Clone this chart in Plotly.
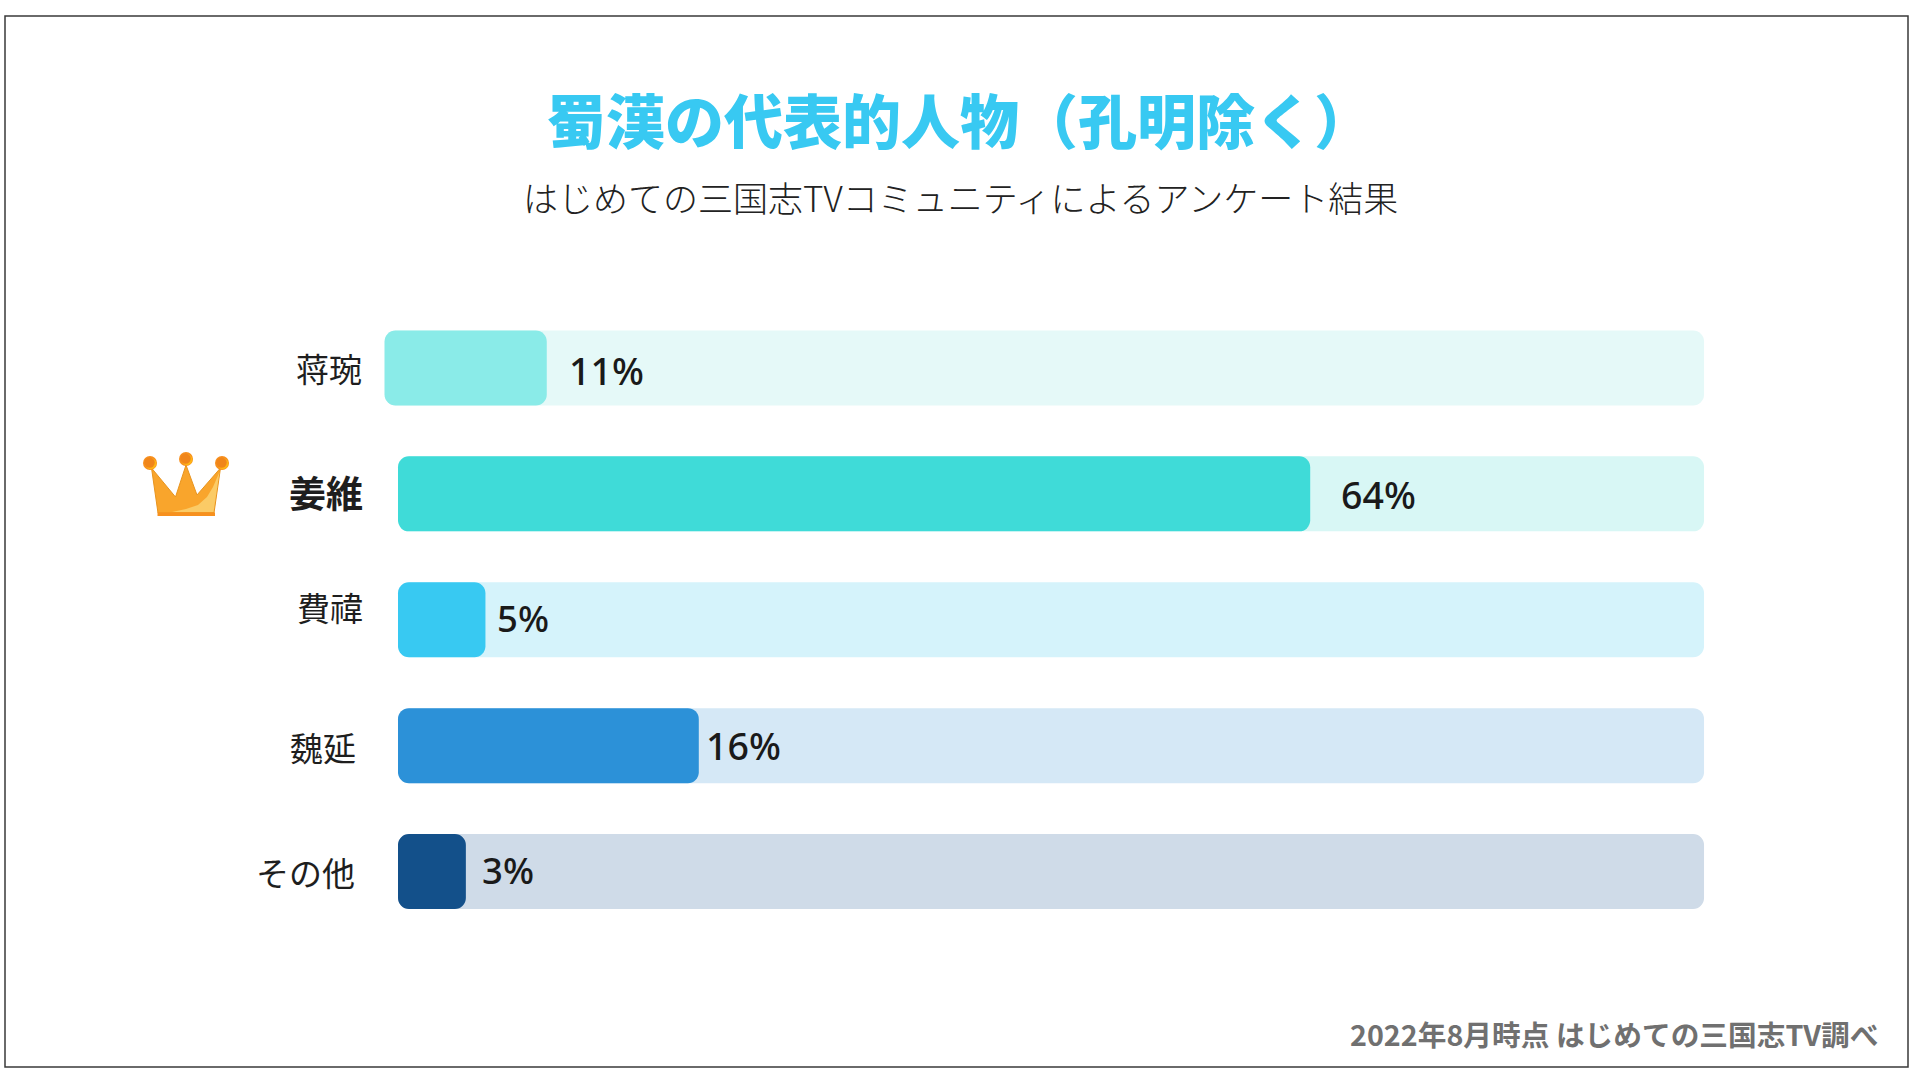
import plotly.graph_objects as go

categories = ["蒋琬", "姜維", "費禕", "魏延", "その他"]
percent_labels = ["11%", "64%", "5%", "16%", "3%"]
# Drawn bar lengths, on a 0-100 scale of the pale track
bar_start = [-1.03, 0, 0, 0, 0]
bar_end = [11.4, 69.9, 6.7, 23.05, 5.2]
track_end = [100.08, 100.08, 100.08, 100.08, 100.08]

bar_colors = ["#8AEBE8", "#3FDBD8", "#38C9F2", "#2C91D8", "#13508A"]
track_colors = ["#E5F9F8", "#D8F7F5", "#D5F3FB", "#D5E8F6", "#CFDBE8"]

W, H = 1920, 1080
def px(x):
    return x / W
def py(y):
    return 1 - y / H

fig = go.Figure()
fig.add_bar(
    y=categories, x=[e - s for e, s in zip(track_end, bar_start)], base=bar_start,
    orientation="h", width=0.596, marker=dict(color=track_colors, cornerradius=11, line_width=0),
    hoverinfo="skip", showlegend=False,
)
fig.add_bar(
    y=categories, x=[e - s for e, s in zip(bar_end, bar_start)], base=bar_start,
    orientation="h", width=0.596, marker=dict(color=bar_colors, cornerradius=11, line_width=0),
    hoverinfo="skip", showlegend=False,
)

CJK = "Noto Sans CJK JP"
ann = []
# category labels
label_right = [364, 365, 365, 358, 357]
label_dy = [0, -2, -13, 1, 0]
for i, c in enumerate(categories):
    bold = i == 1
    ann.append(dict(
        x=px(label_right[i]), xref="paper", y=c, yref="y", yshift=-label_dy[i], text=c,
        xanchor="right", yanchor="middle", showarrow=False,
        font=dict(family=CJK, size=37 if bold else 33, color="#1E1E1E", weight=700 if bold else 400),
    ))
# value labels
value_gap = [20, 29, 10, 5, 14]
value_dy = [3, 1, -2, 0, -2]
value_size = [37.5, 37.5, 36.5, 37.5, 36.5]
for i, c in enumerate(categories):
    ann.append(dict(
        x=bar_end[i], xref="x", xshift=value_gap[i], y=c, yref="y", yshift=-value_dy[i],
        text=percent_labels[i], xanchor="left", yanchor="middle", showarrow=False,
        font=dict(family="Noto Sans", size=value_size[i], color="#1A1A1A", weight=500),
    ))
ann += [
    dict(x=px(960), y=py(119), xref="paper", yref="paper", text="蜀漢の代表的人物（孔明除く）",
         showarrow=False, xanchor="center", yanchor="middle",
         font=dict(family=CJK, size=59, color="#38C9F2", weight=900)),
    dict(x=px(960), y=py(197), xref="paper", yref="paper", text="はじめての三国志TVコミュニティによるアンケート結果",
         showarrow=False, xanchor="center", yanchor="middle",
         font=dict(family=CJK, size=35, color="#222222", weight=300)),
    dict(x=px(1880), y=py(1033), xref="paper", yref="paper", text="2022年8月時点 はじめての三国志TV調べ",
         showarrow=False, xanchor="right", yanchor="middle",
         font=dict(family=CJK, size=28.7, color="#707070", weight=700)),
]

def pts(points):
    return "M" + " L".join(f"{px(x):.5f},{py(y):.5f}" for x, y in points) + " Z"

def ell(cx, cy, rx, ry, color):
    return dict(type="circle", xref="paper", yref="paper", x0=px(cx - rx), x1=px(cx + rx),
                y0=py(cy + ry), y1=py(cy - ry), fillcolor=color, line=dict(width=0))

shapes = [
    dict(type="rect", xref="paper", yref="paper", x0=px(5), x1=px(1908), y0=py(1067), y1=py(16),
         line=dict(color="#3A3A3A", width=1.5), fillcolor="rgba(0,0,0,0)", layer="below"),
    # crown
    dict(type="path", xref="paper", yref="paper",
         path=pts([(151.5, 468), (175.5, 497), (186, 465), (197, 495), (220.5, 468), (214, 513), (158, 513)]),
         fillcolor="#F9A52C", line=dict(color="#E8941E", width=1)),
    dict(type="path", xref="paper", yref="paper",
         path=pts([(172, 512), (186, 509), (198, 505), (207, 497), (213, 487), (219.5, 472), (213.5, 512)]),
         fillcolor="#FBCB66", line=dict(width=0)),
    dict(type="rect", xref="paper", yref="paper", x0=px(157.5), x1=px(215), y0=py(516), y1=py(512.5),
         fillcolor="#F7901E", line=dict(width=0)),
]
for cx, cy in [(150, 463), (186, 459), (222, 463)]:
    shapes.append(ell(cx, cy, 7, 7, "#F78F1E"))
    shapes.append(ell(cx + 0.8, cy + 0.6, 5.6, 5.6, "#FFB514"))
    shapes.append(ell(cx - 0.4, cy - 0.4, 5.2, 5.2, "#F0851A"))

fig.update_layout(
    width=W, height=H, margin=dict(l=0, r=0, t=0, b=0, pad=0), autosize=False,
    paper_bgcolor="white", plot_bgcolor="rgba(0,0,0,0)", barmode="overlay",
    xaxis=dict(domain=[px(380), px(1710)], range=[(380 - 398) / 13.05, (1710 - 398) / 13.05],
               visible=False, fixedrange=True),
    yaxis=dict(domain=[py(934.5), py(305)], range=[4.5, -0.5], type="category",
               categoryorder="array", categoryarray=categories, visible=False, fixedrange=True),
    annotations=ann, shapes=shapes, showlegend=False,
)
fig.write_html("out.html", config=dict(displayModeBar=False),
               post_script="document.body.style.margin='0';document.body.style.overflow='hidden';")
